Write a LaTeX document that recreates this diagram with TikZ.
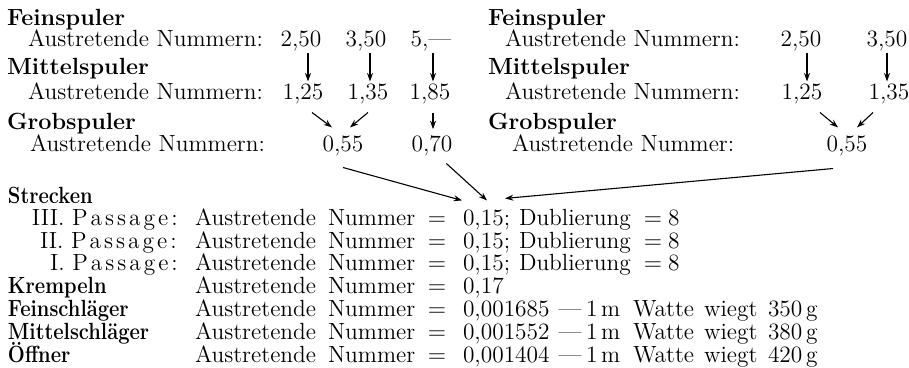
\documentclass[tikz,border=0pt]{standalone}
\usepackage{fontspec}
\usepackage{graphicx}
\usetikzlibrary{arrows.meta,calc}
\newcommand{\condbf}[1]{\scalebox{0.86}[1]{\bfseries #1}}
\newcommand{\lsp}{\kern1.5pt}
\newcommand{\passg}{P\lsp a\lsp s\lsp s\lsp a\lsp g\lsp e\lsp:}
\begin{document}
\begin{tikzpicture}[x=0.5pt,y=-0.5pt,
  every node/.style={inner sep=0pt,outer sep=0pt,font=\fontsize{11.7}{14}\selectfont},
  lbl/.style={anchor=base west},
  lble/.style={anchor=base east},
  num/.style={anchor=base},
  head/.style={anchor=base west,font=\fontsize{11.7}{14}\selectfont\bfseries},
  arr/.style={-{Stealth[length=4.2pt,width=3pt,inset=1.4pt]},line width=0.55pt}]
\useasboundingbox (0,0) rectangle (909,368);

% ---------- upper left ----------
\node[head] (lf) at (7,26) {Feinspuler};
\node[lbl] (lfa) at (28,47) {Austretende Nummern:};
\node[num] (a1) at (301,47) {2,50};
\node[num] (a2) at (366,47) {3,50};
\node[num] (a3) at (431,47) {5,---};
\node[head] (lm) at (7,75) {Mittelspuler};
\node[lbl] (lma) at (28,100) {Austretende Nummern:};
\node[num] (b1) at (303,100) {1,25};
\node[num] (b2) at (368,100) {1,35};
\node[num] (b3) at (430,100) {1,85};
\node[head] (lg) at (7,130) {Grobspuler};
\node[lbl] (lga) at (30,152) {Austretende Nummern:};
\node[num] (c1) at (343,152) {0,55};
\node[num] (c2) at (432,152) {0,70};

% ---------- upper right ----------
\node[head] (rf) at (488,26) {Feinspuler};
\node[lbl] (rfa) at (505,47) {Austretende Nummern:};
\node[num] (d1) at (801,47) {2,50};
\node[num] (d2) at (887,47) {3,50};
\node[head] (rm) at (488,75) {Mittelspuler};
\node[lbl] (rma) at (505,100) {Austretende Nummern:};
\node[num] (e1) at (802,100) {1,25};
\node[num] (e2) at (889,100) {1,35};
\node[head] (rg) at (488,130) {Grobspuler};
\node[lbl] (rga) at (512,152) {Austretende Nummer:};
\node[num] (f1) at (847,152) {0,55};

% ---------- lower part ----------
\node[lbl] (s0) at (8,204) {\condbf{Strecken}};
\node[lbl] (p3) at (32,226) {III. \passg};
\node[lbl] (p2) at (40,249) {II. \passg};
\node[lbl] (p1) at (50,271) {I. \passg};
\node[lbl] (hk) at (8,294) {\condbf{Krempeln}};
\node[lbl] (hf) at (8,317) {\condbf{Feinschläger}};
\node[lbl] (hm) at (8,340) {\condbf{Mittelschläger}};
\node[lbl] (ho) at (8,362) {\condbf{Öffner}};

\foreach \y [count=\i] in {226,249,271,294,317,340,362} {
  \node[lbl] (au\i) at (195,\y) {Austretende};
  \node[lbl] (nu\i) at (328,\y) {Nummer};
  \node[num] (eq\i) at (437,\y) {$=$};
}
\foreach \y [count=\i] in {226,249,271} {
  \node[lbl] (v\i) at (463,\y) {0,15;};
  \node[lbl] (du\i) at (519,\y) {Dublierung};
  \node[num] (dq\i) at (653,\y) {$=$};
  \node[lbl] (de\i) at (668,\y) {8};
}
\node[lbl] (vk) at (463,294) {0,17};
\foreach \y/\v/\w [count=\i] in {317/{0,001685}/350, 340/{0,001552}/380, 362/{0,001404}/420} {
  \node[lbl] (w\i) at (463,\y) {\v};
  \node[num] (wd\i) at (570,\y) {---};
  \node[lbl] (wo\i) at (586,\y) {1};
  \node[lbl] (wm\i) at (601,\y) {m};
  \node[lbl] (wa\i) at (633,\y) {Watte};
  \node[lbl] (wi\i) at (704,\y) {wiegt};
  \node[lbl] (wg\i) at (768,\y) {\w};
  \node[lbl] (wu\i) at (806,\y) {g};
}

% ---------- arrows ----------
\draw[arr] ($(a1.south)+(7,1)$) -- ($(b1.north)+(5,-3)$);
\draw[arr] ($(a2.south)+(4,1)$) -- ($(b2.north)+(2,-3)$);
\draw[arr] ($(a3.south)+(2,1)$) -- ($(b3.north)+(3,-3)$);
\draw[arr] ($(b1.south)+(9,8)$) -- ($(c1.north)+(-11,-9)$);
\draw[arr] ($(b2.south)+(0,8)$) -- ($(c1.north)+(7,-9)$);
\draw[arr] ($(b3.south)+(3,8)$) -- ($(c2.north)+(1,-7)$);

\draw[arr] ($(d1.south)+(6,1)$) -- ($(e1.north)+(5,-3)$);
\draw[arr] ($(d2.south)+(0,1)$) -- ($(e2.north)+(-2,-3)$);
\draw[arr] ($(e1.south)+(18,8)$) -- ($(f1.north)+(-9,-9)$);
\draw[arr] ($(e2.south)+(-16,8)$) -- ($(f1.north)+(10,-9)$);

\draw[arr] ($(c1.south)+(0,11)$) -- ($(v1.north west)+(-1,-10)$);
\draw[arr] ($(c2.south east)+(-6,7)$) -- ($(v1.north west)+(24,-10)$);
\draw[arr] ($(f1.south)+(-14,12)$) -- ($(v1.north west)+(42,-12)$);
\end{tikzpicture}
\end{document}
